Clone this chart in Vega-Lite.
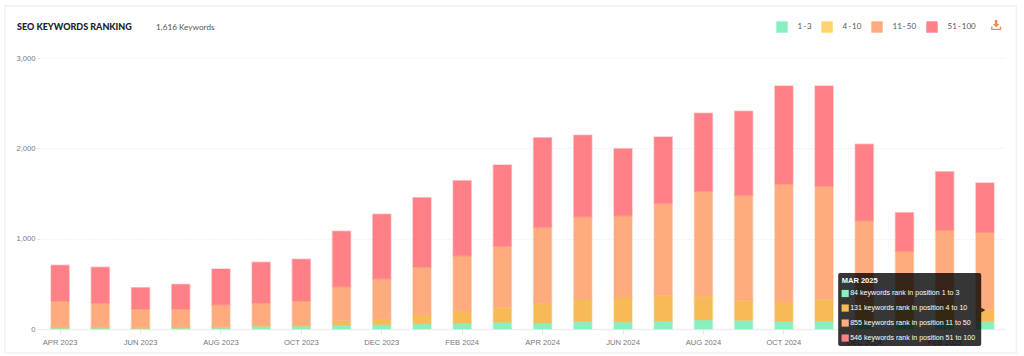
{"$schema":"https://vega.github.io/schema/vega-lite/v6.json","width":965,"height":271,"autosize":"none","padding":{"left":40,"top":58,"right":19,"bottom":27},"background":"#ffffff","title":{"text":"SEO KEYWORDS RANKING","anchor":"start","frame":"group","dx":-23,"offset":-27,"font":"Lato","fontWeight":900,"fontSize":9,"color":"#20202c"},"config":{"view":{"stroke":null}},"resolve":{"scale":{"x":"independent","y":"independent","color":"independent"},"legend":{"color":"independent"}},"layer":[{"data":{"values":[
{"month":"APR 2023","range":"1 - 3","keywords":12,"o":1},{"month":"APR 2023","range":"4 - 10","keywords":10,"o":2},{"month":"APR 2023","range":"11 - 50","keywords":288,"o":3},{"month":"APR 2023","range":"51 - 100","keywords":395,"o":4},
{"month":"MAY 2023","range":"1 - 3","keywords":11,"o":1},{"month":"MAY 2023","range":"4 - 10","keywords":7,"o":2},{"month":"MAY 2023","range":"11 - 50","keywords":270,"o":3},{"month":"MAY 2023","range":"51 - 100","keywords":395,"o":4},
{"month":"JUN 2023","range":"1 - 3","keywords":8,"o":1},{"month":"JUN 2023","range":"4 - 10","keywords":7,"o":2},{"month":"JUN 2023","range":"11 - 50","keywords":206,"o":3},{"month":"JUN 2023","range":"51 - 100","keywords":237,"o":4},
{"month":"JUL 2023","range":"1 - 3","keywords":11,"o":1},{"month":"JUL 2023","range":"4 - 10","keywords":10,"o":2},{"month":"JUL 2023","range":"11 - 50","keywords":200,"o":3},{"month":"JUL 2023","range":"51 - 100","keywords":273,"o":4},
{"month":"AUG 2023","range":"1 - 3","keywords":15,"o":1},{"month":"AUG 2023","range":"4 - 10","keywords":11,"o":2},{"month":"AUG 2023","range":"11 - 50","keywords":243,"o":3},{"month":"AUG 2023","range":"51 - 100","keywords":395,"o":4},
{"month":"SEP 2023","range":"1 - 3","keywords":30,"o":1},{"month":"SEP 2023","range":"4 - 10","keywords":14,"o":2},{"month":"SEP 2023","range":"11 - 50","keywords":244,"o":3},{"month":"SEP 2023","range":"51 - 100","keywords":450,"o":4},
{"month":"OCT 2023","range":"1 - 3","keywords":30,"o":1},{"month":"OCT 2023","range":"4 - 10","keywords":18,"o":2},{"month":"OCT 2023","range":"11 - 50","keywords":262,"o":3},{"month":"OCT 2023","range":"51 - 100","keywords":461,"o":4},
{"month":"NOV 2023","range":"1 - 3","keywords":41,"o":1},{"month":"NOV 2023","range":"4 - 10","keywords":51,"o":2},{"month":"NOV 2023","range":"11 - 50","keywords":377,"o":3},{"month":"NOV 2023","range":"51 - 100","keywords":612,"o":4},
{"month":"DEC 2023","range":"1 - 3","keywords":48,"o":1},{"month":"DEC 2023","range":"4 - 10","keywords":63,"o":2},{"month":"DEC 2023","range":"11 - 50","keywords":446,"o":3},{"month":"DEC 2023","range":"51 - 100","keywords":712,"o":4},
{"month":"JAN 2024","range":"1 - 3","keywords":59,"o":1},{"month":"JAN 2024","range":"4 - 10","keywords":100,"o":2},{"month":"JAN 2024","range":"11 - 50","keywords":527,"o":3},{"month":"JAN 2024","range":"51 - 100","keywords":768,"o":4},
{"month":"FEB 2024","range":"1 - 3","keywords":63,"o":1},{"month":"FEB 2024","range":"4 - 10","keywords":140,"o":2},{"month":"FEB 2024","range":"11 - 50","keywords":609,"o":3},{"month":"FEB 2024","range":"51 - 100","keywords":830,"o":4},
{"month":"MAR 2024","range":"1 - 3","keywords":74,"o":1},{"month":"MAR 2024","range":"4 - 10","keywords":166,"o":2},{"month":"MAR 2024","range":"11 - 50","keywords":679,"o":3},{"month":"MAR 2024","range":"51 - 100","keywords":896,"o":4},
{"month":"APR 2024","range":"1 - 3","keywords":66,"o":1},{"month":"APR 2024","range":"4 - 10","keywords":214,"o":2},{"month":"APR 2024","range":"11 - 50","keywords":849,"o":3},{"month":"APR 2024","range":"51 - 100","keywords":989,"o":4},
{"month":"MAY 2024","range":"1 - 3","keywords":85,"o":1},{"month":"MAY 2024","range":"4 - 10","keywords":247,"o":2},{"month":"MAY 2024","range":"11 - 50","keywords":912,"o":3},{"month":"MAY 2024","range":"51 - 100","keywords":900,"o":4},
{"month":"JUN 2024","range":"1 - 3","keywords":81,"o":1},{"month":"JUN 2024","range":"4 - 10","keywords":273,"o":2},{"month":"JUN 2024","range":"11 - 50","keywords":901,"o":3},{"month":"JUN 2024","range":"51 - 100","keywords":741,"o":4},
{"month":"JUL 2024","range":"1 - 3","keywords":89,"o":1},{"month":"JUL 2024","range":"4 - 10","keywords":284,"o":2},{"month":"JUL 2024","range":"11 - 50","keywords":1022,"o":3},{"month":"JUL 2024","range":"51 - 100","keywords":730,"o":4},
{"month":"AUG 2024","range":"1 - 3","keywords":100,"o":1},{"month":"AUG 2024","range":"4 - 10","keywords":262,"o":2},{"month":"AUG 2024","range":"11 - 50","keywords":1166,"o":3},{"month":"AUG 2024","range":"51 - 100","keywords":859,"o":4},
{"month":"SEP 2024","range":"1 - 3","keywords":96,"o":1},{"month":"SEP 2024","range":"4 - 10","keywords":221,"o":2},{"month":"SEP 2024","range":"11 - 50","keywords":1166,"o":3},{"month":"SEP 2024","range":"51 - 100","keywords":927,"o":4},
{"month":"OCT 2024","range":"1 - 3","keywords":85,"o":1},{"month":"OCT 2024","range":"4 - 10","keywords":218,"o":2},{"month":"OCT 2024","range":"11 - 50","keywords":1302,"o":3},{"month":"OCT 2024","range":"51 - 100","keywords":1085,"o":4},
{"month":"NOV 2024","range":"1 - 3","keywords":89,"o":1},{"month":"NOV 2024","range":"4 - 10","keywords":239,"o":2},{"month":"NOV 2024","range":"11 - 50","keywords":1255,"o":3},{"month":"NOV 2024","range":"51 - 100","keywords":1107,"o":4},
{"month":"DEC 2024","range":"1 - 3","keywords":80,"o":1},{"month":"DEC 2024","range":"4 - 10","keywords":210,"o":2},{"month":"DEC 2024","range":"11 - 50","keywords":909,"o":3},{"month":"DEC 2024","range":"51 - 100","keywords":845,"o":4},
{"month":"JAN 2025","range":"1 - 3","keywords":70,"o":1},{"month":"JAN 2025","range":"4 - 10","keywords":170,"o":2},{"month":"JAN 2025","range":"11 - 50","keywords":620,"o":3},{"month":"JAN 2025","range":"51 - 100","keywords":428,"o":4},
{"month":"FEB 2025","range":"1 - 3","keywords":80,"o":1},{"month":"FEB 2025","range":"4 - 10","keywords":180,"o":2},{"month":"FEB 2025","range":"11 - 50","keywords":836,"o":3},{"month":"FEB 2025","range":"51 - 100","keywords":646,"o":4},
{"month":"MAR 2025","range":"1 - 3","keywords":84,"o":1},{"month":"MAR 2025","range":"4 - 10","keywords":131,"o":2},{"month":"MAR 2025","range":"11 - 50","keywords":855,"o":3},{"month":"MAR 2025","range":"51 - 100","keywords":546,"o":4}
]},"mark":{"type":"bar","width":18,"strokeWidth":1.5,"strokeOpacity":0.4},"encoding":{"x":{"field":"month","type":"nominal","title":null,"scale":{"type":"band","domain":["APR 2023","MAY 2023","JUN 2023","JUL 2023","AUG 2023","SEP 2023","OCT 2023","NOV 2023","DEC 2023","JAN 2024","FEB 2024","MAR 2024","APR 2024","MAY 2024","JUN 2024","JUL 2024","AUG 2024","SEP 2024","OCT 2024","NOV 2024","DEC 2024","JAN 2025","FEB 2025","MAR 2025"]},"axis":{"values":["APR 2023","JUN 2023","AUG 2023","OCT 2023","DEC 2023","FEB 2024","APR 2024","JUN 2024","AUG 2024","OCT 2024","DEC 2024","FEB 2025"],"labelAngle":0,"labelFont":"Liberation Sans","labelFontSize":7.6,"labelColor":"#777777","labelPadding":4,"tickColor":"#e6e6e6","tickSize":5,"domainColor":"#eeeeee","domainWidth":1.5,"grid":false}},"y":{"field":"keywords","type":"quantitative","aggregate":"sum","stack":"zero","title":null,"scale":{"domain":[0,3000],"nice":false},"axis":{"values":[0,1000,2000,3000],"labelExpr":"format(datum.value, ',')","labelFont":"Liberation Sans","labelFontSize":7.6,"labelColor":"#777777","labelPadding":2,"tickSize":3,"tickColor":"#e6e6e6","domain":false,"grid":true,"gridColor":"#e8e8e8","gridDash":[1,2],"gridWidth":1}},"color":{"field":"range","type":"nominal","scale":{"domain":["1 - 3","4 - 10","11 - 50","51 - 100"],"range":["#88EFC0","#F6BB56","#FFAB7D","#FF8087"]},"legend":null},"stroke":{"field":"range","type":"nominal","scale":{"domain":["1 - 3","4 - 10","11 - 50","51 - 100"],"range":["#88EFC0","#F6BB56","#FFAB7D","#FF8087"]},"legend":null},"order":{"field":"o","type":"quantitative"}}},
{"data":{"values":[]},"mark":{"type":"rect"},"encoding":{"color":{"field":"range","type":"nominal","scale":{"domain":["1 - 3","4 - 10","11 - 50","51 - 100"],"range":["#88EFC0","#FFD36E","#FFA97E","#FF8087"]},"legend":{"title":null,"orient":"none","legendX":736,"legendY":-37,"direction":"horizontal","columns":4,"gridAlign":"none","symbolType":"square","symbolSize":130,"symbolStrokeWidth":0,"symbolOpacity":1,"labelFont":"Lato","labelFontSize":8,"labelColor":"#555555","labelOffset":9.5,"columnPadding":9,"labelExpr":"join(split(datum.label,' '),'\u2009')"}}}},
{"data":{"values":[{"kind":"card frame"}]},"mark":{"type":"rect","fill":"transparent","stroke":"#f1f1f1","strokeWidth":1.5},"encoding":{"x":{"datum":-0.87,"type":"quantitative","scale":{"domain":[0,24]},"axis":null},"x2":{"datum":24.28},"y":{"datum":3576,"type":"quantitative","scale":{"domain":[0,3000],"nice":false},"axis":null},"y2":{"datum":-266}}},
{"data":{"values":[{"label":"1,616 Keywords"}]},"mark":{"type":"text","align":"left","baseline":"middle","font":"Lato","fontSize":8.2,"color":"#555555"},"encoding":{"text":{"field":"label"},"x":{"datum":2.886,"type":"quantitative","scale":{"domain":[0,24]},"axis":null},"y":{"datum":3333,"type":"quantitative","scale":{"domain":[0,3000],"nice":false},"axis":null}}},
{"data":{"values":[{"label":"download"}]},"mark":{"type":"point","filled":true,"fill":"#F4845F","strokeWidth":0,"opacity":1,"shape":"M-0.25,-1 L0.25,-1 L0.25,-0.2 L0.65,-0.2 L0,0.45 L-0.65,-0.2 L-0.25,-0.2 Z M-1,0.3 L-0.75,0.3 L-0.75,0.75 L0.75,0.75 L0.75,0.3 L1,0.3 L1,1 L-1,1 Z","size":100},"encoding":{"x":{"datum":23.78,"type":"quantitative","scale":{"domain":[0,24]},"axis":null},"y":{"datum":3365,"type":"quantitative","scale":{"domain":[0,3000],"nice":false},"axis":null}}},
{"data":{"values":[{"label":"tooltip"}]},"mark":{"type":"rect","fill":"#000000","fillOpacity":0.79,"cornerRadius":2},"encoding":{"x":{"datum":19.851,"type":"quantitative","scale":{"domain":[0,24]},"axis":null},"x2":{"datum":23.408},"y":{"datum":620,"type":"quantitative","scale":{"domain":[0,3000],"nice":false},"axis":null},"y2":{"datum":-188}}},
{"data":{"values":[{"label":"tooltip arrow"}]},"mark":{"type":"point","filled":true,"shape":"triangle-right","size":22,"fill":"#000000","opacity":0.79,"strokeWidth":0},"encoding":{"x":{"datum":23.46,"type":"quantitative","scale":{"domain":[0,24]},"axis":null},"y":{"datum":210,"type":"quantitative","scale":{"domain":[0,3000],"nice":false},"axis":null}}},
{"data":{"values":[{"label":"MAR 2025"}]},"mark":{"type":"text","align":"left","baseline":"middle","font":"Liberation Sans","fontWeight":"bold","fontSize":7.5,"color":"#ffffff"},"encoding":{"text":{"field":"label"},"x":{"datum":19.94,"type":"quantitative","scale":{"domain":[0,24]},"axis":null},"y":{"datum":531,"type":"quantitative","scale":{"domain":[0,3000],"nice":false},"axis":null}}},
{"data":{"values":[{"label":"84 keywords rank in position 1 to 3"}]},"mark":{"type":"text","align":"left","baseline":"middle","font":"Liberation Sans","fontSize":7.1,"color":"#ffffff"},"encoding":{"text":{"field":"label"},"x":{"datum":20.149,"type":"quantitative","scale":{"domain":[0,24]},"axis":null},"y":{"datum":393,"type":"quantitative","scale":{"domain":[0,3000],"nice":false},"axis":null}}},
{"data":{"values":[{"label":"131 keywords rank in position 4 to 10"}]},"mark":{"type":"text","align":"left","baseline":"middle","font":"Liberation Sans","fontSize":7.1,"color":"#ffffff"},"encoding":{"text":{"field":"label"},"x":{"datum":20.149,"type":"quantitative","scale":{"domain":[0,24]},"axis":null},"y":{"datum":232,"type":"quantitative","scale":{"domain":[0,3000],"nice":false},"axis":null}}},
{"data":{"values":[{"label":"855 keywords rank in position 11 to 50"}]},"mark":{"type":"text","align":"left","baseline":"middle","font":"Liberation Sans","fontSize":7.1,"color":"#ffffff"},"encoding":{"text":{"field":"label"},"x":{"datum":20.149,"type":"quantitative","scale":{"domain":[0,24]},"axis":null},"y":{"datum":66,"type":"quantitative","scale":{"domain":[0,3000],"nice":false},"axis":null}}},
{"data":{"values":[{"label":"546 keywords rank in position 51 to 100"}]},"mark":{"type":"text","align":"left","baseline":"middle","font":"Liberation Sans","fontSize":7.1,"color":"#ffffff"},"encoding":{"text":{"field":"label"},"x":{"datum":20.149,"type":"quantitative","scale":{"domain":[0,24]},"axis":null},"y":{"datum":-100,"type":"quantitative","scale":{"domain":[0,3000],"nice":false},"axis":null}}},
{"data":{"values":[{"label":"swatch 1 - 3"}]},"mark":{"type":"point","filled":true,"shape":"square","size":52,"fill":"#88EFC0","opacity":1,"strokeWidth":0},"encoding":{"x":{"datum":20.025,"type":"quantitative","scale":{"domain":[0,24]},"axis":null},"y":{"datum":393,"type":"quantitative","scale":{"domain":[0,3000],"nice":false},"axis":null}}},
{"data":{"values":[{"label":"swatch 4 - 10"}]},"mark":{"type":"point","filled":true,"shape":"square","size":52,"fill":"#F6BB56","opacity":1,"strokeWidth":0},"encoding":{"x":{"datum":20.025,"type":"quantitative","scale":{"domain":[0,24]},"axis":null},"y":{"datum":232,"type":"quantitative","scale":{"domain":[0,3000],"nice":false},"axis":null}}},
{"data":{"values":[{"label":"swatch 11 - 50"}]},"mark":{"type":"point","filled":true,"shape":"square","size":52,"fill":"#FFAB7D","opacity":1,"strokeWidth":0},"encoding":{"x":{"datum":20.025,"type":"quantitative","scale":{"domain":[0,24]},"axis":null},"y":{"datum":66,"type":"quantitative","scale":{"domain":[0,3000],"nice":false},"axis":null}}},
{"data":{"values":[{"label":"swatch 51 - 100"}]},"mark":{"type":"point","filled":true,"shape":"square","size":52,"fill":"#FF8087","opacity":1,"strokeWidth":0},"encoding":{"x":{"datum":20.025,"type":"quantitative","scale":{"domain":[0,24]},"axis":null},"y":{"datum":-100,"type":"quantitative","scale":{"domain":[0,3000],"nice":false},"axis":null}}}
]}
